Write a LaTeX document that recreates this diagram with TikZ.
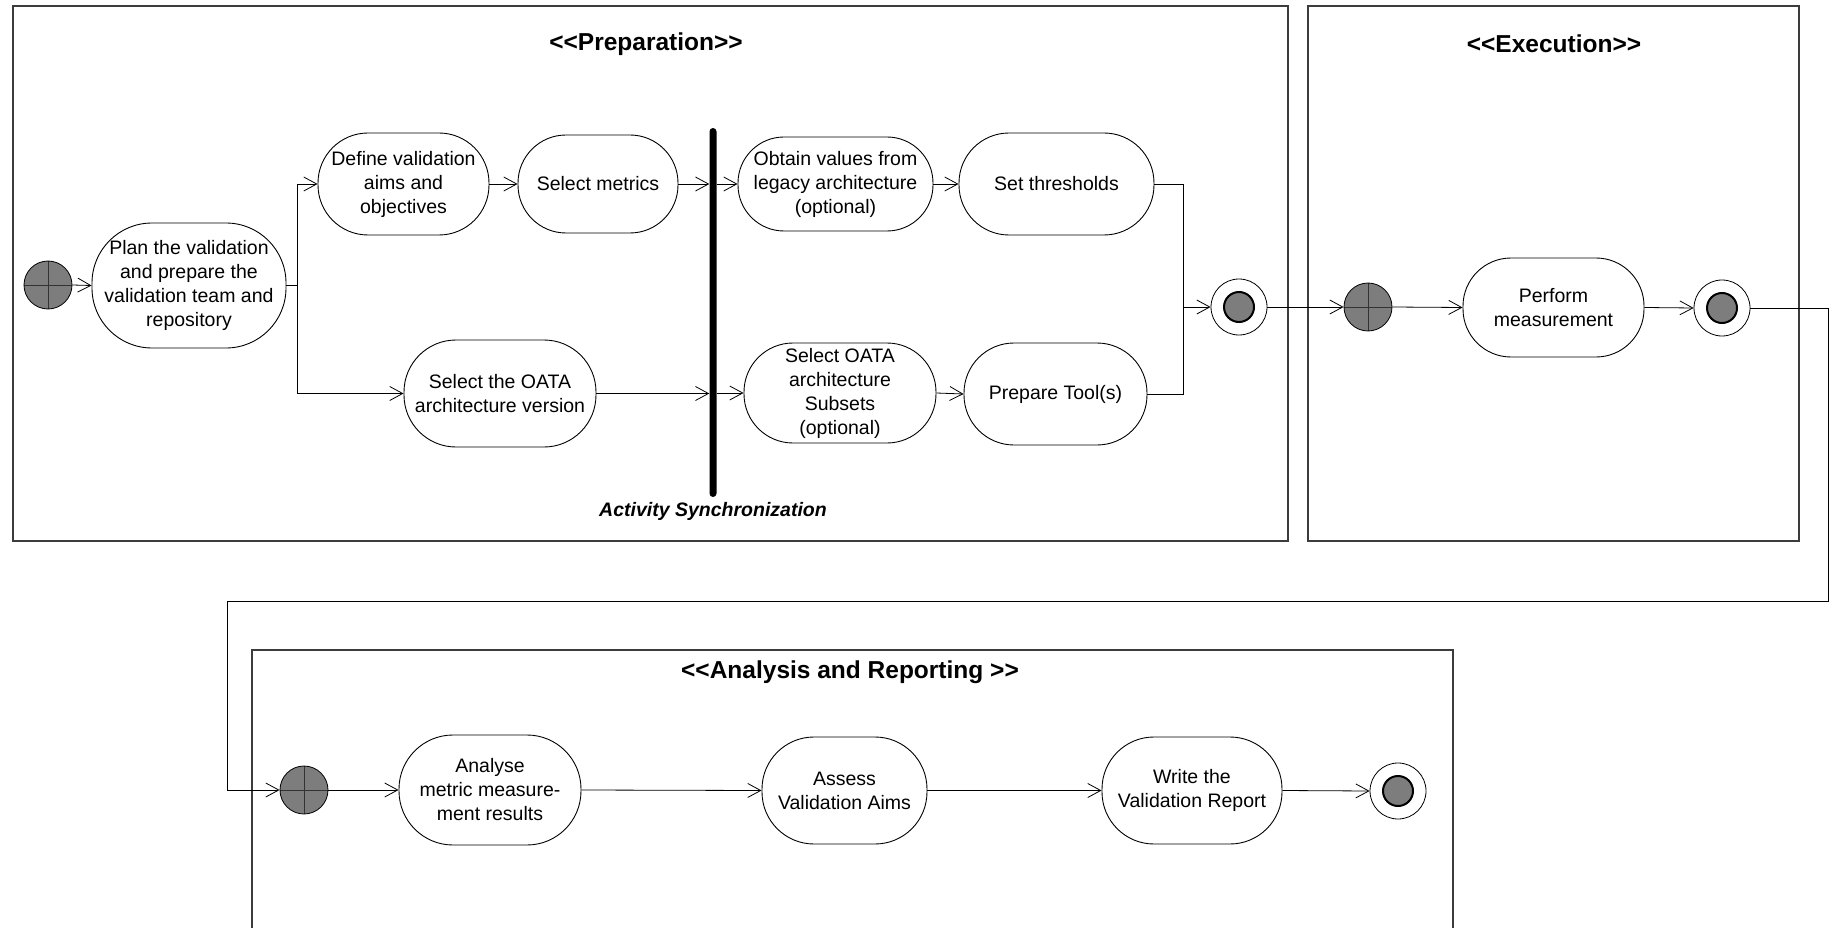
\documentclass[tikz,border=0pt]{standalone}
\usepackage{fontspec}
\newfontfamily\arialf{Liberation Sans}
\usetikzlibrary{arrows.meta}
\definecolor{tokengray}{RGB}{125,125,125}
\definecolor{framegray}{RGB}{60,60,60}
\begin{document}
\begin{tikzpicture}[x=1pt,y=-1pt,
  txt/.style={font=\arialf\fontsize{19.5}{24}\selectfont},
  act/.style={txt, draw, line width=0.9pt, align=center, inner sep=0pt,
              rounded corners=#1},
  act/.default=49pt,
  startnode/.style={circle, draw, line width=0.8pt, fill=tokengray,
              minimum size=48pt, inner sep=0pt,
              path picture={\draw[line width=0.5pt, black!80]
                (path picture bounding box.north) -- (path picture bounding box.south)
                (path picture bounding box.west) -- (path picture bounding box.east);}},
  finalnode/.style={circle, draw, line width=0.8pt, fill=white,
              minimum size=56pt, inner sep=0pt,
              path picture={\filldraw[fill=tokengray, line width=2pt]
                (path picture bounding box.center) circle (15pt);}},
  frame/.style={draw=framegray, line width=1.3pt},
  title/.style={font=\arialf\bfseries\fontsize{24.5}{28}\selectfont},
  arr/.style={line width=0.8pt, -{Straight Barb[length=13pt,width=14pt,line width=0.8pt]}},
  ln/.style={line width=0.8pt}
]
\useasboundingbox (0,0) rectangle (1832,928);

% swimlane frames
\draw[frame] (13,6) rectangle (1288,541);
\draw[frame] (1308,6) rectangle (1799,541);
\draw[frame] (252,930) -- (252,650) -- (1453,650) -- (1453,930);

\node[title] (tprep) at (646,44) {<<Preparation>>};
\node[title] (texec) at (1554,44) {<<Execution>>};
\node[title] (tana)  at (850,672) {<<Analysis and Reporting >>};

% Preparation
\node[startnode] (s1) at (48,285) {};
\node[act=60pt, minimum width=194pt, minimum height=125pt] (plan) at (189,285.5)
  {Plan the validation\\and prepare the\\validation team and\\repository};
\node[act=50pt, minimum width=171pt, minimum height=102pt] (define) at (403.5,184)
  {Define validation\\aims and\\objectives};
\node[act=48pt, minimum width=160pt, minimum height=98pt] (metrics) at (598,184)
  {Select metrics};
\node[act=52pt, minimum width=192pt, minimum height=107pt] (oatav) at (500,393.5)
  {Select the OATA\\architecture version};
\node[fill=black, rounded corners=3.5pt, minimum width=7pt, minimum height=369pt,
      inner sep=0pt] (bar) at (713,312.5) {};
\node[txt, font=\arialf\bfseries\itshape\fontsize{19.5}{24}\selectfont] (sync)
  at (713,511) {Activity Synchronization};
\node[act=46pt, minimum width=195pt, minimum height=94pt] (obtain) at (835.5,184)
  {Obtain values from\\legacy architecture\\(optional)};
\node[act=50pt, minimum width=195pt, minimum height=102pt] (thr) at (1056.5,184)
  {Set thresholds};
\node[act=49pt, minimum width=192pt, minimum height=100pt] (subsets) at (840,393)
  {Select OATA\\architecture\\Subsets\\(optional)};
\node[act=50pt, minimum width=183pt, minimum height=102pt] (tools) at (1055.5,394)
  {Prepare Tool(s)};
\node[finalnode] (f1) at (1239,307) {};
\coordinate (jn) at (1183,307);

\draw[arr] (s1.east) -- (plan.west);
\draw[arr] (plan.east) -- ++(11,0) |- (define.west);
\draw[arr] (plan.east) -- ++(11,0) |- (oatav.west);
\draw[arr] (define.east) -- (metrics.west);
\draw[arr] (metrics.east) -- (metrics.east -| bar.west);
\draw[arr] (oatav.east) -- (oatav.east -| bar.west);
\draw[arr] (obtain.west -| bar.east) -- (obtain.west);
\draw[arr] (subsets.west -| bar.east) -- (subsets.west);
\draw[arr] (obtain.east) -- (thr.west);
\draw[arr] (subsets.east) -- (tools.west);
\draw[ln] (thr.east) -| (jn);
\draw[ln] (tools.east) -| (jn);
\draw[arr] (jn) -- (f1.west);

% Execution
\node[startnode] (s2) at (1368,307) {};
\node[act=48pt, minimum width=181pt, minimum height=99pt] (perform) at (1553.5,307.5)
  {Perform\\measurement};
\node[finalnode] (f2) at (1722,308) {};
\draw[arr] (f1.east) -- (s2.west);
\draw[arr] (s2.east) -- (perform.west);
\draw[arr] (perform.east) -- (f2.west);

% Analysis and Reporting
\node[startnode] (s3) at (304,790) {};
\node[act=54pt, minimum width=182pt, minimum height=110pt] (analyse) at (490,790)
  {Analyse\\metric measure-\\ment results};
\node[act=52pt, minimum width=165pt, minimum height=107pt] (assess) at (844.5,790.5)
  {Assess\\Validation Aims};
\node[act=52pt, minimum width=180pt, minimum height=107pt] (report) at (1192,790.5)
  {Write the\\Validation Report};
\node[finalnode] (f3) at (1398,791) {};

\coordinate (lp1) at (1828,601);
\coordinate (lp2) at (227,601);
\draw[arr] (f2.east) -| (lp1) -- (lp2) |- (s3.west);
\draw[arr] (s3.east) -- (analyse.west);
\draw[arr] (analyse.east) -- (assess.west);
\draw[arr] (assess.east) -- (report.west);
\draw[arr] (report.east) -- (f3.west);
\end{tikzpicture}
\end{document}
